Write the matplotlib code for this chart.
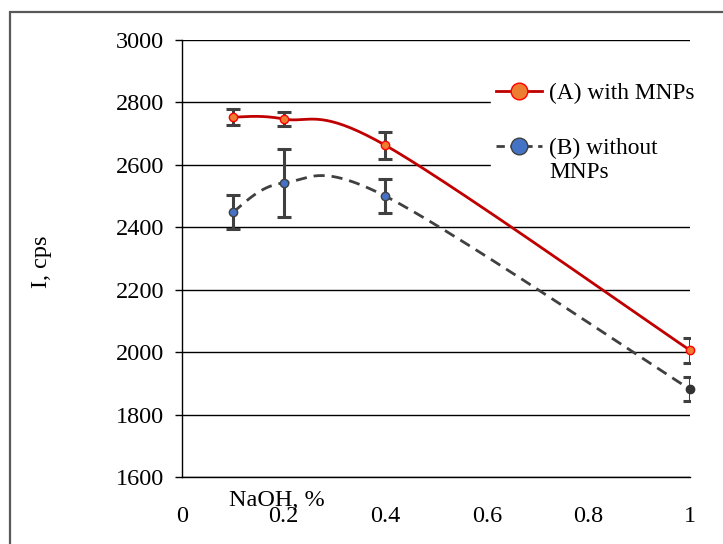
import numpy as np
import matplotlib.pyplot as plt
from matplotlib.patches import Rectangle
from matplotlib.lines import Line2D

plt.rcParams['font.family'] = ['Liberation Serif', 'DejaVu Serif']

# data
naoh = [0.1, 0.2, 0.4, 1.0]
with_mnps = [2753, 2747, 2663, 2006]
with_err = [25, 22, 43, 40]
without_mnps = [2449, 2542, 2500, 1881]
without_err = [53, 108, 54, 38]

xticks = [0, 0.2, 0.4, 0.6, 0.8, 1]
xtick_labels = ['0', '0.2', '0.4', '0.6', '0.8', '1']
yticks = [1600, 1800, 2000, 2200, 2400, 2600, 2800, 3000]


def smooth(xs, ys, n=60):
    # excel-like smoothed line: bezier segments with catmull-rom control points
    p = np.column_stack([xs, ys]).astype(float)
    p = np.vstack([p[0], p, p[-1]])
    t = np.linspace(0, 1, n)[:, None]
    out = []
    for i in range(1, len(p) - 2):
        p0, p1, p2, p3 = p[i - 1], p[i], p[i + 1], p[i + 2]
        c1 = p1 + (p2 - p0) / 6
        c2 = p2 - (p3 - p1) / 6
        seg = (1 - t)**3 * p1 + 3 * (1 - t)**2 * t * c1 + 3 * (1 - t) * t**2 * c2 + t**3 * p2
        out.append(seg)
    out = np.vstack(out)
    return out[:, 0], out[:, 1]


fs = 17.5
fig = plt.figure(figsize=(7.23, 5.44), dpi=100)
ax = fig.add_axes([182 / 723, 1 - 477 / 544, 508 / 723, 437 / 544])

# outer chart frame
fig.add_artist(Rectangle((10 / 723, -0.2), 1.2, 1 - 12 / 544 + 0.2, transform=fig.transFigure,
                         fill=False, edgecolor='#595959', linewidth=1.6))

red = '#C00000'
grey = '#404040'

sx, sy = smooth(naoh, with_mnps)
ax.plot(sx, sy, color=red, lw=2, zorder=3)
sx, sy = smooth(naoh, without_mnps)
ax.plot(sx, sy, color=grey, lw=2, ls=(0, (4, 2.5)), zorder=3)

ax.errorbar(naoh, with_mnps, yerr=with_err, fmt='none', ecolor=grey, elinewidth=2.2,
            capsize=4.8, capthick=2.2, zorder=4)
ax.errorbar(naoh, without_mnps, yerr=without_err, fmt='none', ecolor=grey, elinewidth=2.2,
            capsize=4.8, capthick=2.2, zorder=4)

ax.plot(naoh, with_mnps, 'o', ms=6, mfc='#ED7D31', mec='#FF0000', mew=1, zorder=5, clip_on=False)
ax.plot(naoh[:-1], without_mnps[:-1], 'o', ms=6, mfc='#4472C4', mec=grey, mew=1, zorder=5,
        clip_on=False)
ax.plot(naoh[-1:], without_mnps[-1:], 'o', ms=6, mfc='#333333', mec='#333333', zorder=5,
        clip_on=False)

ax.set_xlim(0, 1)
ax.set_ylim(1600, 3000)
ax.set_xticks(xticks)
ax.set_xticklabels(xtick_labels)
ax.set_yticks(yticks)
ax.yaxis.grid(True, color='black', lw=1)
ax.set_axisbelow(True)
for s in ['top', 'right']:
    ax.spines[s].set_visible(False)
ax.spines['left'].set_linewidth(1)
ax.spines['bottom'].set_linewidth(1)
ax.tick_params(axis='y', length=5, width=1, pad=8, labelsize=fs)
ax.tick_params(axis='x', length=0, pad=21, labelsize=fs)

fig.text(41 / 723, 1 - 262 / 544, 'I, cps', rotation=90, ha='center', va='center', fontsize=fs)
fig.text(277 / 723, 1 - 501 / 544, 'NaOH, %', ha='center', va='center', fontsize=fs)

handles = [
    Line2D([], [], color=red, lw=2, marker='o', ms=12, mfc='#ED7D31', mec='#FF0000', mew=1),
    Line2D([], [], color=grey, lw=2, ls=(0, (3, 2)), marker='o', ms=12, mfc='#4472C4',
           mec=grey, mew=1),
]
leg = ax.legend(handles, ['(A) with MNPs', '(B) without\nMNPs'], loc='upper left',
                bbox_to_anchor=(491 / 723, 1 - 78 / 544), bbox_transform=fig.transFigure,
                frameon=True, framealpha=1, edgecolor='white', facecolor='white', fancybox=False,
                fontsize=16.8, handlelength=2.0, handletextpad=0.3, labelspacing=1.45,
                borderpad=0.2, borderaxespad=0)
leg.set_zorder(6)
# put the marker of the two-line entry next to its first line
try:
    rows = leg._legend_handle_box.get_children()[0].get_children()
    rows[1].align = 'top'
except Exception:
    pass

fig.savefig('out.png', dpi=100)
